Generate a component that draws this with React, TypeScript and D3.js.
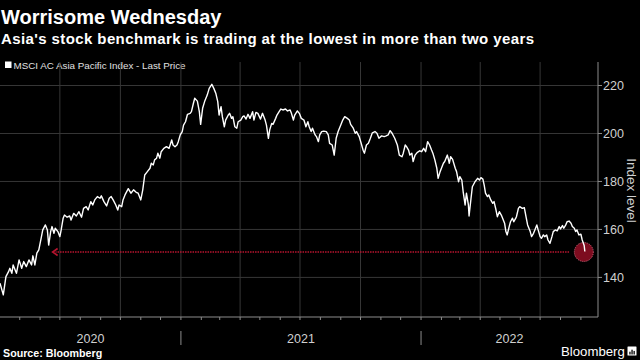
import React from "react";
import * as d3 from "d3";

const title = "Worrisome Wednesday";
const subtitle = "Asia's stock benchmark is trading at the lowest in more than two years";
const legendLabel = "MSCI AC Asia Pacific Index - Last Price";
const sourceLabel = "Source: Bloomberg";
const axisTitle = "Index level";

const yTicks = [140, 160, 180, 200, 220];
const yearLabels = ["2020", "2021", "2022"];
const yearStarts = ["2021-01-01", "2022-01-01"];
const quarterLines = ["2020-07-01", "2020-10-01", "2021-01-01", "2021-04-01", "2021-07-01", "2021-10-01", "2022-01-01", "2022-04-01", "2022-07-01"];

const dates = [
  "2020-04-01","2020-04-06","2020-04-10","2020-04-14","2020-04-16","2020-04-19","2020-04-21","2020-04-24","2020-04-26","2020-04-30",
  "2020-05-04","2020-05-07","2020-05-11","2020-05-15","2020-05-19","2020-05-21","2020-05-24","2020-05-27","2020-05-30","2020-06-03",
  "2020-06-05","2020-06-09","2020-06-12","2020-06-14","2020-06-17","2020-06-19","2020-06-22","2020-06-24","2020-06-28","2020-07-01",
  "2020-07-03","2020-07-06","2020-07-08","2020-07-12","2020-07-16","2020-07-18","2020-07-22","2020-07-26","2020-07-30","2020-08-03",
  "2020-08-06","2020-08-10","2020-08-13","2020-08-17","2020-08-20","2020-08-23","2020-08-27","2020-08-31","2020-09-02","2020-09-06",
  "2020-09-10","2020-09-14","2020-09-17","2020-09-20","2020-09-24","2020-09-27","2020-09-29","2020-10-03","2020-10-05","2020-10-08",
  "2020-10-13","2020-10-17","2020-10-21","2020-10-25","2020-10-28","2020-11-01","2020-11-04","2020-11-07","2020-11-11","2020-11-15",
  "2020-11-17","2020-11-20","2020-11-22","2020-11-25","2020-11-27","2020-11-30","2020-12-02","2020-12-06","2020-12-10","2020-12-14",
  "2020-12-18","2020-12-20","2020-12-23","2020-12-26","2020-12-28","2020-12-31","2021-01-03","2021-01-05","2021-01-08","2021-01-11",
  "2021-01-15","2021-01-17","2021-01-20","2021-01-22","2021-01-26","2021-01-29","2021-01-31","2021-02-03","2021-02-06","2021-02-10",
  "2021-02-13","2021-02-17","2021-02-20","2021-02-23","2021-02-26","2021-02-28","2021-03-03","2021-03-05","2021-03-08","2021-03-10",
  "2021-03-14","2021-03-16","2021-03-19","2021-03-21","2021-03-24","2021-03-27","2021-03-29","2021-04-02","2021-04-05","2021-04-07",
  "2021-04-10","2021-04-13","2021-04-16","2021-04-20","2021-04-22","2021-04-25","2021-04-28","2021-05-02","2021-05-05","2021-05-09",
  "2021-05-11","2021-05-14","2021-05-16","2021-05-19","2021-05-21","2021-05-25","2021-05-27","2021-05-31","2021-06-02","2021-06-05",
  "2021-06-09","2021-06-12","2021-06-16","2021-06-18","2021-06-21","2021-06-23","2021-06-27","2021-06-30","2021-07-03","2021-07-07",
  "2021-07-10","2021-07-13","2021-07-15","2021-07-18","2021-07-20","2021-07-24","2021-07-26","2021-07-29","2021-07-31","2021-08-03",
  "2021-08-06","2021-08-10","2021-08-13","2021-08-15","2021-08-19","2021-08-22","2021-08-25","2021-08-28","2021-09-01","2021-09-04",
  "2021-09-07","2021-09-11","2021-09-14","2021-09-16","2021-09-20","2021-09-23","2021-09-25","2021-09-29","2021-10-02","2021-10-05",
  "2021-10-07","2021-10-10","2021-10-13","2021-10-16","2021-10-19","2021-10-23","2021-10-26","2021-10-29","2021-11-02","2021-11-06",
  "2021-11-09","2021-11-12","2021-11-15","2021-11-18","2021-11-22","2021-11-26","2021-11-29","2021-12-03","2021-12-05","2021-12-08",
  "2021-12-10","2021-12-13","2021-12-15","2021-12-18","2021-12-20","2021-12-23","2021-12-26","2021-12-30","2022-01-02","2022-01-05",
  "2022-01-08","2022-01-11","2022-01-14","2022-01-17","2022-01-19","2022-01-22","2022-01-25","2022-01-27","2022-01-30","2022-02-01",
  "2022-02-04","2022-02-06","2022-02-10","2022-02-13","2022-02-15","2022-02-18","2022-02-22","2022-02-24","2022-02-27","2022-03-01",
  "2022-03-04","2022-03-06","2022-03-09","2022-03-11","2022-03-14","2022-03-15","2022-03-18","2022-03-20","2022-03-24","2022-03-28",
  "2022-03-31","2022-04-02","2022-04-05","2022-04-07","2022-04-09","2022-04-12","2022-04-14","2022-04-17","2022-04-20","2022-04-22",
  "2022-04-25","2022-04-27","2022-04-30","2022-05-03","2022-05-05","2022-05-08","2022-05-10","2022-05-12","2022-05-15","2022-05-17",
  "2022-05-20","2022-05-22","2022-05-25","2022-05-26","2022-05-29","2022-05-31","2022-06-04","2022-06-07","2022-06-10","2022-06-12",
  "2022-06-16","2022-06-18","2022-06-21","2022-06-23","2022-06-26","2022-06-28","2022-07-01","2022-07-03","2022-07-06","2022-07-08",
  "2022-07-11","2022-07-13","2022-07-16","2022-07-19","2022-07-21","2022-07-24","2022-07-27","2022-07-30","2022-08-01","2022-08-04",
  "2022-08-06","2022-08-09","2022-08-11","2022-08-14","2022-08-17","2022-08-19","2022-08-22","2022-08-24","2022-08-26","2022-08-29",
  "2022-09-01","2022-09-03","2022-09-06","2022-09-07"
];

const prices = [
  137.6,132.7,140.3,142.4,143.8,141.7,145.2,143.1,141.7,147.3,
  143.8,146.6,144.5,147.3,145.2,149.0,145.2,150.1,151.5,157.0,
  159.8,161.9,159.8,153.5,159.1,161.2,158.4,160.5,159.1,157.0,
  159.8,164.7,166.0,165.1,165.6,163.9,166.7,165.6,167.4,165.1,
  168.8,169.5,168.1,171.6,170.2,172.3,173.7,173.0,174.0,171.6,
  169.8,173.0,173.7,172.3,170.2,168.1,170.2,169.5,172.3,174.4,
  177.0,175.1,176.5,175.5,175.1,172.3,176.5,182.7,184.1,185.5,
  187.6,186.9,189.0,189.7,191.8,189.7,192.4,193.8,194.5,193.8,
  197.3,195.2,194.5,195.2,196.6,199.4,200.8,203.5,204.9,208.0,
  208.4,209.1,212.6,214.7,213.5,209.1,203.8,210.5,213.3,216.0,
  218.8,220.5,218.8,216.8,213.3,207.7,211.2,207.0,202.8,205.6,
  207.7,208.4,206.3,207.0,202.8,202.2,204.9,205.6,207.0,207.3,
  206.0,208.0,206.3,209.1,205.6,208.8,208.4,206.0,208.4,205.6,
  203.5,198.0,201.5,204.2,203.8,206.3,207.7,209.4,210.2,209.8,
  210.2,209.4,209.8,208.4,205.6,207.7,209.4,208.4,206.3,205.6,
  202.8,204.9,202.8,200.8,202.2,199.4,198.7,196.6,199.4,200.8,
  201.0,200.8,199.4,195.9,195.2,191.0,198.0,200.8,203.5,205.6,
  207.0,206.3,205.6,203.8,202.2,200.1,200.8,198.7,195.9,193.0,
  191.8,195.2,195.9,198.0,200.3,200.8,200.1,198.0,199.0,198.7,
  199.0,199.4,201.2,200.1,198.0,195.2,191.0,190.3,191.8,195.2,
  194.5,193.1,191.0,191.8,188.3,191.0,192.0,192.8,192.4,193.8,
  192.4,196.6,195.2,193.1,191.8,189.0,185.5,181.3,184.1,185.5,
  187.6,188.3,191.0,187.6,190.3,189.2,185.5,184.1,179.9,182.0,
  180.6,175.8,170.2,175.1,170.2,165.6,173.0,177.8,179.9,181.3,
  180.6,181.6,181.0,178.5,175.1,173.7,174.4,172.3,170.9,171.6,
  168.1,165.3,167.4,166.0,164.7,162.6,159.1,157.7,161.2,163.2,
  164.7,163.2,164.7,165.3,168.8,169.5,168.8,169.1,164.7,161.9,
  159.1,157.0,158.4,159.8,161.9,159.8,157.0,156.3,157.7,157.0,
  157.7,155.6,154.2,157.0,159.1,159.8,159.4,161.2,160.2,161.6,
  160.5,161.9,163.2,163.5,162.6,161.2,160.5,159.1,159.8,157.7,
  158.0,155.6,153.3,150.8
];

const redLevel = 150.6;
const arrowFrom = "2022-08-14";
const arrowTo = "2020-06-20";

const W = 640;
const H = 360;
const FONT = "'Liberation Sans', Arial, sans-serif";

export default function App() {
  const parse = d3.timeParse("%Y-%m-%d");
  const data = dates.map((d, i) => ({ date: parse(d) as Date, value: prices[i] }));

  const plotLeft = 0;
  const plotRight = 598;
  const plotTop = 62;
  const plotBottom = 317;

  const x = d3
    .scaleTime()
    .domain([parse("2020-04-01") as Date, parse("2022-09-27") as Date])
    .range([plotLeft, plotRight]);
  const y = d3.scaleLinear().domain([123.5, 229.8]).range([plotBottom, plotTop]);

  const line = d3
    .line<{ date: Date; value: number }>()
    .x((d) => x(d.date))
    .y((d) => y(d.value))
    .curve(d3.curveLinear);

  const months = d3.timeMonth.range(x.domain()[0], x.domain()[1]).filter((m) => x(m) > 0.5);
  const quarters = quarterLines.map((q) => parse(q) as Date);
  const yearBoundaries = yearStarts.map((s) => parse(s) as Date);

  const yearEdges = [plotLeft, ...yearBoundaries.map((b) => x(b)), plotRight];
  const yearCenters = yearLabels.map((_, i) => (yearEdges[i] + yearEdges[i + 1]) / 2);

  const last = data[data.length - 1];
  const redY = y(redLevel);
  const ax1 = x(parse(arrowFrom) as Date);
  const ax2 = x(parse(arrowTo) as Date);

  const gridColor = "#363636";
  const axisColor = "#8c8c8c";
  const textColor = "#d0d0d0";
  const red = "#b8142f";

  return (
    <svg
      width={W}
      height={H}
      viewBox={`0 0 ${W} ${H}`}
      style={{ position: "fixed", left: 0, top: 0, background: "#000", display: "block" }}
    >
      <rect x={0} y={0} width={W} height={H} fill="#000" />

      <text x={1} y={23.5} fill="#fff" fontFamily={FONT} fontWeight="bold" fontSize={20}>
        {title}
      </text>
      <text x={1} y={44} fill="#fff" fontFamily={FONT} fontWeight="bold" fontSize={15} letterSpacing={0.4}>
        {subtitle}
      </text>

      <rect x={5} y={61.5} width={6.5} height={6.5} fill="#fff" />
      <text x={13.5} y={68.5} fill="#e0e0e0" fontFamily={FONT} fontSize={9.8}>
        {legendLabel}
      </text>

      {/* horizontal grid */}
      {yTicks.map((t) => (
        <line key={"h" + t} x1={plotLeft} x2={plotRight} y1={y(t)} y2={y(t)} stroke={gridColor} strokeWidth={1} />
      ))}
      {/* vertical grid */}
      {quarters.map((q, i) => (
        <line key={"v" + i} x1={x(q)} x2={x(q)} y1={plotTop} y2={plotBottom} stroke={gridColor} strokeWidth={1} />
      ))}

      {/* axes */}
      <line x1={plotLeft} x2={plotRight} y1={plotBottom} y2={plotBottom} stroke={axisColor} strokeWidth={1} />
      <line x1={plotRight} x2={plotRight} y1={plotTop} y2={plotBottom} stroke={axisColor} strokeWidth={1} />
      {months.map((m, i) => (
        <line key={"m" + i} x1={x(m)} x2={x(m)} y1={plotBottom} y2={plotBottom + 3} stroke={axisColor} strokeWidth={1} />
      ))}
      {yearBoundaries.map((b, i) => (
        <line key={"yb" + i} x1={x(b)} x2={x(b)} y1={331} y2={345} stroke={axisColor} strokeWidth={1} />
      ))}
      {yearLabels.map((l, i) => (
        <text key={l} x={yearCenters[i]} y={342.5} fill={textColor} fontFamily={FONT} fontSize={12.5} textAnchor="middle">
          {l}
        </text>
      ))}
      {yTicks.map((t) => (
        <g key={"yt" + t}>
          <line x1={plotRight} x2={plotRight + 4} y1={y(t)} y2={y(t)} stroke={axisColor} strokeWidth={1} />
          <text x={plotRight + 5} y={y(t) + 4.5} fill={textColor} fontFamily={FONT} fontSize={12.5}>
            {t}
          </text>
        </g>
      ))}
      <text
        transform={`translate(627, 190.5) rotate(90)`}
        fill={textColor}
        fontFamily={FONT}
        fontSize={13.5}
        textAnchor="middle"
      >
        {axisTitle}
      </text>

      {/* red reference line with arrow */}
      <line x1={ax1} x2={ax2 + 3} y1={redY} y2={redY} stroke={red} strokeWidth={1.7} strokeDasharray="1.5 1" />
      <path
        d={`M${ax2 + 5},${redY - 3.5} L${ax2},${redY} L${ax2 + 5},${redY + 3.5}`}
        fill="none"
        stroke={red}
        strokeWidth={1.6}
      />
      <circle
        cx={x(last.date) - 1}
        cy={redY}
        r={9.5}
        fill="#7d0c1f"
        stroke="#e07088"
        strokeWidth={0.9}
        strokeDasharray="1 1"
      />

      {/* price line */}
      <path d={line(data) || ""} fill="none" stroke="#fff" strokeWidth={1.4} strokeLinejoin="round" />

      {/* footer */}
      <text x={3} y={356.5} fill="#fff" fontFamily={FONT} fontWeight="bold" fontSize={10.7}>
        {sourceLabel}
      </text>
      <text x={561} y={355.5} fill="#fff" fontFamily={FONT} fontSize={13.2}>
        Bloomberg
      </text>
      <g transform="translate(627.5, 346.5)">
        <rect x={0} y={0} width={9} height={9} fill="#fff" rx={0.5} />
        <rect x={1.8} y={5.2} width={1.3} height={2.8} fill="#000" />
        <rect x={3.9} y={3.2} width={1.3} height={4.8} fill="#000" />
        <rect x={6} y={4.4} width={1.3} height={3.6} fill="#000" />
      </g>
    </svg>
  );
}
